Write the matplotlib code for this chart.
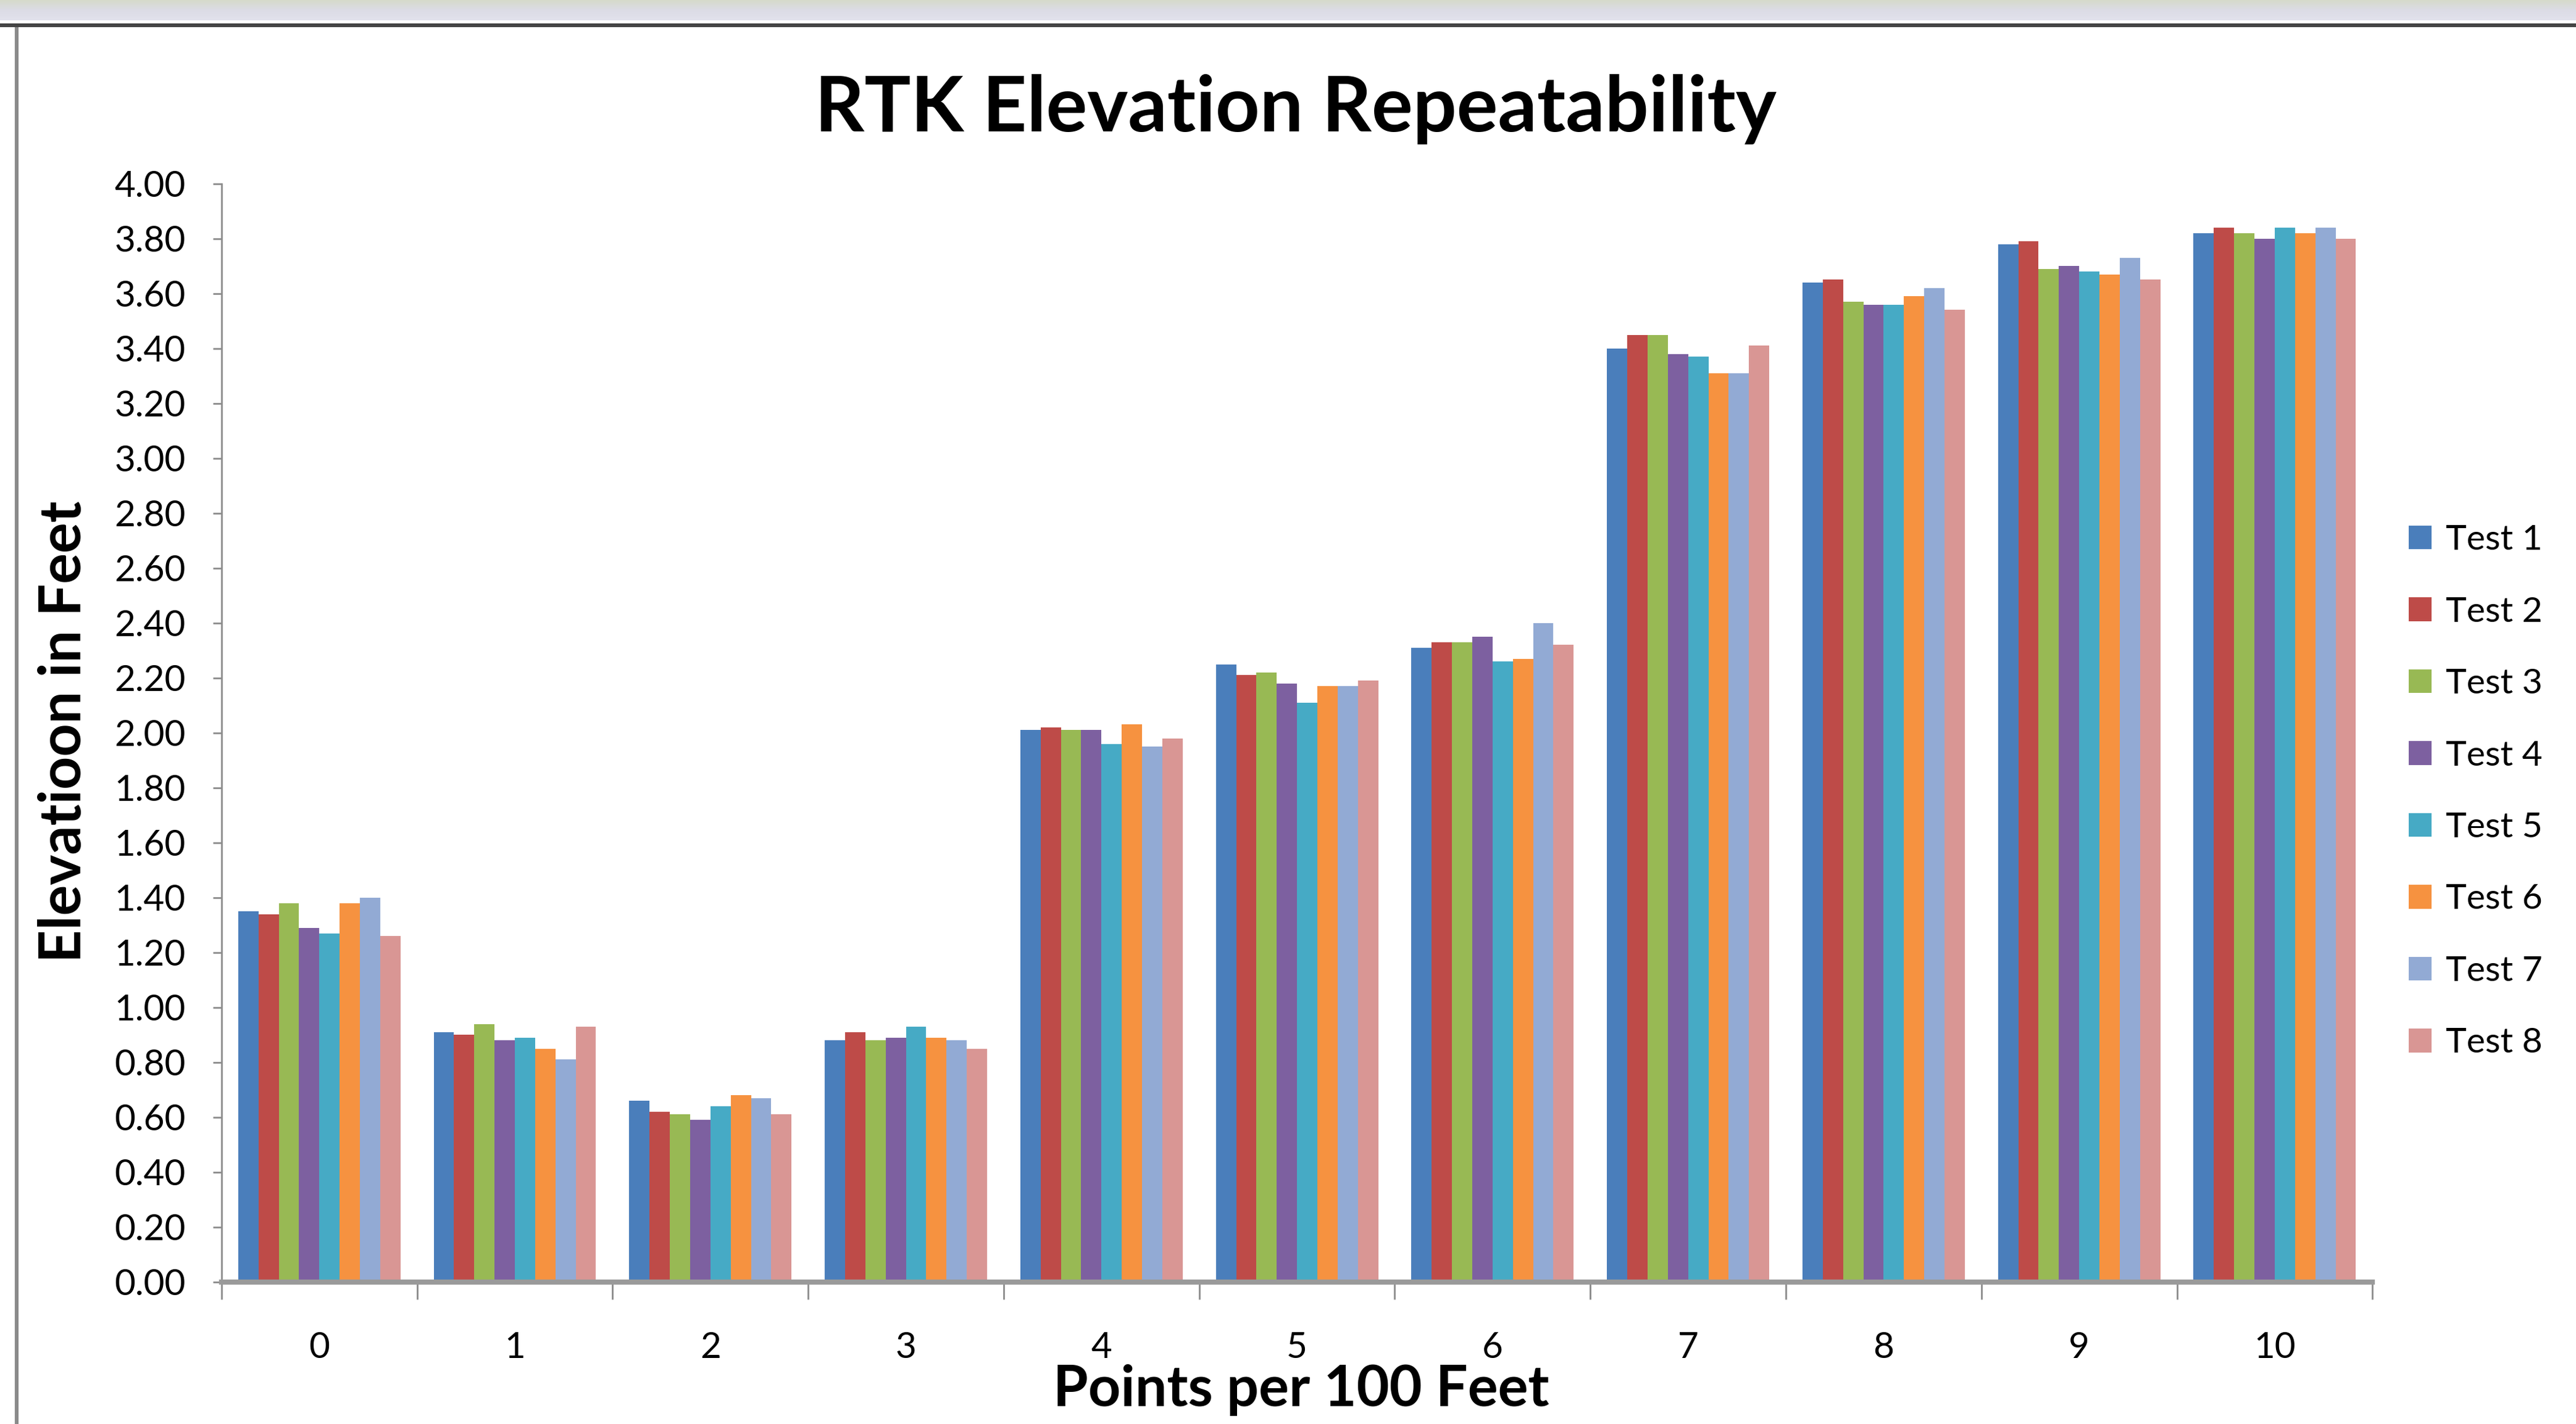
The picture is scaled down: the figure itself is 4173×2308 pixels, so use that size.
import numpy as np
import matplotlib
matplotlib.use("Agg")
import matplotlib.pyplot as plt
from matplotlib.patches import Rectangle

plt.rcParams['font.family'] = ['Lato', 'DejaVu Sans']

points = [0, 1, 2, 3, 4, 5, 6, 7, 8, 9, 10]
test_names = ["Test 1", "Test 2", "Test 3", "Test 4", "Test 5", "Test 6", "Test 7", "Test 8"]

test1 = [1.35, 0.91, 0.66, 0.88, 2.01, 2.25, 2.31, 3.40, 3.64, 3.78, 3.82]
test2 = [1.34, 0.90, 0.62, 0.91, 2.02, 2.21, 2.33, 3.45, 3.65, 3.79, 3.84]
test3 = [1.38, 0.94, 0.61, 0.88, 2.01, 2.22, 2.33, 3.45, 3.57, 3.69, 3.82]
test4 = [1.29, 0.88, 0.59, 0.89, 2.01, 2.18, 2.35, 3.38, 3.56, 3.70, 3.80]
test5 = [1.27, 0.89, 0.64, 0.93, 1.96, 2.11, 2.26, 3.37, 3.56, 3.68, 3.84]
test6 = [1.38, 0.85, 0.68, 0.89, 2.03, 2.17, 2.27, 3.31, 3.59, 3.67, 3.82]
test7 = [1.40, 0.81, 0.67, 0.88, 1.95, 2.17, 2.40, 3.31, 3.62, 3.73, 3.84]
test8 = [1.26, 0.93, 0.61, 0.85, 1.98, 2.19, 2.32, 3.41, 3.54, 3.65, 3.80]

series = [test1, test2, test3, test4, test5, test6, test7, test8]
colors = ["#4A7EBB", "#BE4B48", "#98B954", "#7D60A0", "#46AAC5", "#F69240", "#92AAD4", "#D99694"]

fig = plt.figure(figsize=(41.73, 23.08), dpi=100)

# window-like frame around the chart
band = fig.add_axes([0, 1 - 33 / 2308, 1, 33 / 2308])
grad = np.linspace(0, 1, 50).reshape(-1, 1)
band.imshow(grad, aspect='auto', cmap=matplotlib.colors.LinearSegmentedColormap.from_list(
    "band", ["#d6dacb", "#dcdce6", "#e2e2ec"]))
band.axis('off')
fig.add_artist(Rectangle((0, 1 - 44 / 2308), 1, 6 / 2308, transform=fig.transFigure,
                         color="#444444", lw=0))
fig.add_artist(Rectangle((24 / 4173, 0), 6 / 4173, 1 - 44 / 2308, transform=fig.transFigure,
                         color="#8a8a8a", lw=0))

ax = fig.add_axes([0.086, 0.0997, 0.835, 0.7713])

x = np.arange(len(points))
w = 0.83 / len(series)
for i, (vals, c, name) in enumerate(zip(series, colors, test_names)):
    ax.bar(x + (i - 3.5) * w, vals, w, color=c, label=name, edgecolor='none')

ax.set_xlim(-0.5, len(points) - 0.5)
ax.set_ylim(0, 4)
ax.set_yticks(np.arange(0, 4.01, 0.2))
ax.set_yticklabels(["%.2f" % v for v in np.arange(0, 4.01, 0.2)])

ax.set_xticks(np.arange(-0.5, len(points), 1.0))
ax.set_xticklabels([])
ax.set_xticks(x, minor=True)
ax.set_xticklabels([str(p) for p in points], minor=True)

for s in ['top', 'right']:
    ax.spines[s].set_visible(False)
ax.spines['left'].set_color('#8c8c8c')
ax.spines['left'].set_linewidth(2)
ax.spines['bottom'].set_color('#9a9a9a')
ax.spines['bottom'].set_linewidth(6)

ax.tick_params(axis='y', direction='out', length=10, width=2, color='#8c8c8c',
               pad=32, labelsize=42)
ax.tick_params(axis='x', which='major', direction='out', length=20, width=2, color='#8c8c8c')
ax.tick_params(axis='x', which='minor', length=0, pad=58, labelsize=42)

fig.text(0.503, 0.9077, "RTK Elevation Repeatability", fontsize=90, fontweight='bold',
         ha='center', va='baseline')
fig.text(0.025, 0.486, "Elevatioon in Feet", rotation=90, fontsize=67, fontweight='bold',
         ha='center', va='center')
fig.text(0.505, 0.024, "Points per 100 Feet", fontsize=66, fontweight='bold',
         ha='center', va='center')

ax.legend(loc='center left', bbox_to_anchor=(0.935, 0.444), bbox_transform=fig.transFigure,
          frameon=False, fontsize=41, handlelength=0.66, handleheight=0.66,
          handletextpad=0.4, labelspacing=1.15, borderpad=0, borderaxespad=0)

fig.savefig("out.png", dpi=100, facecolor='white')
